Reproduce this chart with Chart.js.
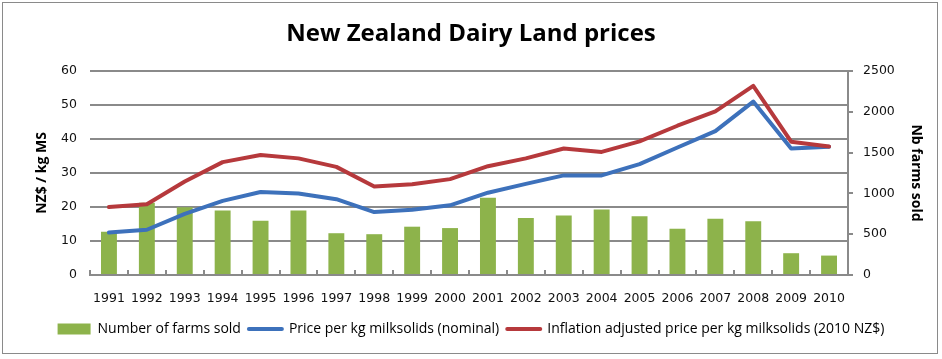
<!DOCTYPE html>
<html>
<head>
<meta charset="utf-8">
<script src="https://cdn.jsdelivr.net/npm/chart.js@4.4.1/dist/chart.umd.min.js"></script>
<style>
  html, body { margin: 0; padding: 0; background: #fff; }
  #wrap { position: relative; width: 942px; height: 359px; }
  #frame { position: absolute; left: 2px; top: 2px; width: 934px; height: 350px; border: 1.5px solid #8a8a8a; pointer-events: none; }
  canvas { position: absolute; left: 0; top: 0; }
</style>
</head>
<body>
<div id="wrap">
  <canvas id="c" width="942" height="359"></canvas>
  <div id="frame"></div>
</div>
<script>
const years = ['1991','1992','1993','1994','1995','1996','1997','1998','1999','2000','2001','2002','2003','2004','2005','2006','2007','2008','2009','2010'];
const farmsSold = [530, 885, 830, 790, 665, 790, 512, 500, 592, 575, 946, 700, 729, 804, 720, 567, 690, 658, 267, 238];
const priceNominal = [12.5, 13.3, 18.0, 21.8, 24.4, 24.0, 22.3, 18.5, 19.2, 20.5, 24.2, 26.8, 29.3, 29.3, 32.6, 37.5, 42.3, 51.0, 37.2, 37.7];
const priceAdjusted = [20.0, 20.8, 27.5, 33.2, 35.3, 34.3, 31.8, 26.0, 26.7, 28.2, 32.0, 34.3, 37.2, 36.2, 39.3, 43.9, 48.1, 55.6, 39.2, 37.8];
const leftTicks = [0, 10, 20, 30, 40, 50, 60];
const rightTicks = [0, 500, 1000, 1500, 2000, 2500];

const GREEN = '#8DB34B', BLUE = '#3D71BB', RED = '#B6393C', GRID = '#8a8a8a';

const innerTicks = {
  id: 'innerTicks',
  afterDatasetsDraw(chart) {
    const xs = chart.scales.x, ctx = chart.ctx, b = chart.chartArea.bottom;
    ctx.save();
    ctx.strokeStyle = GRID; ctx.lineWidth = 2;
    for (let i = 0; i <= years.length; i++) {
      const px = Math.round(xs.getPixelForValue(i - 0.5));
      ctx.beginPath(); ctx.moveTo(px, b - 5); ctx.lineTo(px, b + 1); ctx.stroke();
    }
    ctx.restore();
  }
};

new Chart(document.getElementById('c'), {
  type: 'bar',
  data: {
    labels: years,
    datasets: [
      { type: 'bar', label: 'Number of farms sold', data: farmsSold, yAxisID: 'y2', backgroundColor: GREEN, borderWidth: 0, barPercentage: 0.42, categoryPercentage: 1, order: 3 },
      { type: 'line', label: 'Price per kg milksolids (nominal)', data: priceNominal, yAxisID: 'y', borderColor: BLUE, backgroundColor: BLUE, borderWidth: 4, pointRadius: 0, tension: 0, borderCapStyle: 'round', borderJoinStyle: 'round', order: 2 },
      { type: 'line', label: 'Inflation adjusted price per kg milksolids (2010 NZ$)', data: priceAdjusted, yAxisID: 'y', borderColor: RED, backgroundColor: RED, borderWidth: 4, pointRadius: 0, tension: 0, borderCapStyle: 'round', borderJoinStyle: 'round', order: 1 }
    ]
  },
  options: {
    responsive: false,
    animation: false,
    devicePixelRatio: 1,
    layout: { padding: { left: 0, right: 0, top: 0, bottom: 13 } },
    plugins: {
      tooltip: { enabled: false },
      title: {
        display: true,
        text: 'New Zealand Dairy Land prices',
        color: '#000',
        font: { family: 'Open Sans', size: 24, weight: 'bold', lineHeight: 1.2 },
        padding: { top: 20, bottom: 22.2 }
      },
      legend: {
        position: 'bottom',
        labels: {
          usePointStyle: true,
          pointStyleWidth: 33,
          boxHeight: 11,
          padding: 8,
          color: '#000',
          font: { family: 'Open Sans', size: 14 },
          generateLabels(chart) {
            return chart.data.datasets.map((d, i) => ({
              text: d.label,
              fillStyle: d.backgroundColor,
              strokeStyle: d.type === 'bar' ? d.backgroundColor : d.borderColor,
              lineWidth: d.type === 'bar' ? 0 : 4,
              lineCap: 'round',
              pointStyle: d.type === 'bar' ? 'rect' : 'line',
              fontColor: '#000',
              hidden: false,
              datasetIndex: i
            }));
          }
        }
      }
    },
    scales: {
      x: {
        offset: true,
        grid: { display: false },
        border: { display: true, color: GRID, width: 2 },
        ticks: { color: '#111', padding: 8, font: { family: 'DejaVu Sans', size: 12.5 }, maxRotation: 0, autoSkip: false },
        afterFit(s) { s.height = 39; }
      },
      y: {
        position: 'left',
        min: 0, max: 60,
        afterBuildTicks(s) { s.ticks = leftTicks.map(v => ({ value: v })); },
        grid: { color: GRID, lineWidth: 2, drawTicks: false },
        border: { display: false },
        ticks: { color: '#111', padding: 13, font: { family: 'DejaVu Sans', size: 12.5 }, callback: v => String(v) },
        title: { display: true, text: 'NZ$ / kg MS', color: '#000', font: { family: 'Open Sans', size: 14, weight: 'bold', lineHeight: 1.2 }, padding: { top: 34, bottom: 0 } },
        afterFit(s) { s.width = 90; }
      },
      y2: {
        position: 'right',
        min: 0, max: 2500,
        afterBuildTicks(s) { s.ticks = rightTicks.map(v => ({ value: v })); },
        grid: { drawOnChartArea: false, color: GRID, lineWidth: 2, tickLength: 5, drawTicks: true },
        border: { display: true, color: GRID, width: 2 },
        ticks: { color: '#111', padding: 10, font: { family: 'DejaVu Sans', size: 12.5 }, callback: v => String(v) },
        title: { display: true, text: 'Nb farms sold', color: '#000', font: { family: 'Open Sans', size: 14, weight: 'bold', lineHeight: 1.2 }, padding: { top: 18, bottom: 0 } },
        afterFit(s) { s.width = 94; }
      }
    }
  },
  plugins: [innerTicks]
});
</script>
</body>
</html>
